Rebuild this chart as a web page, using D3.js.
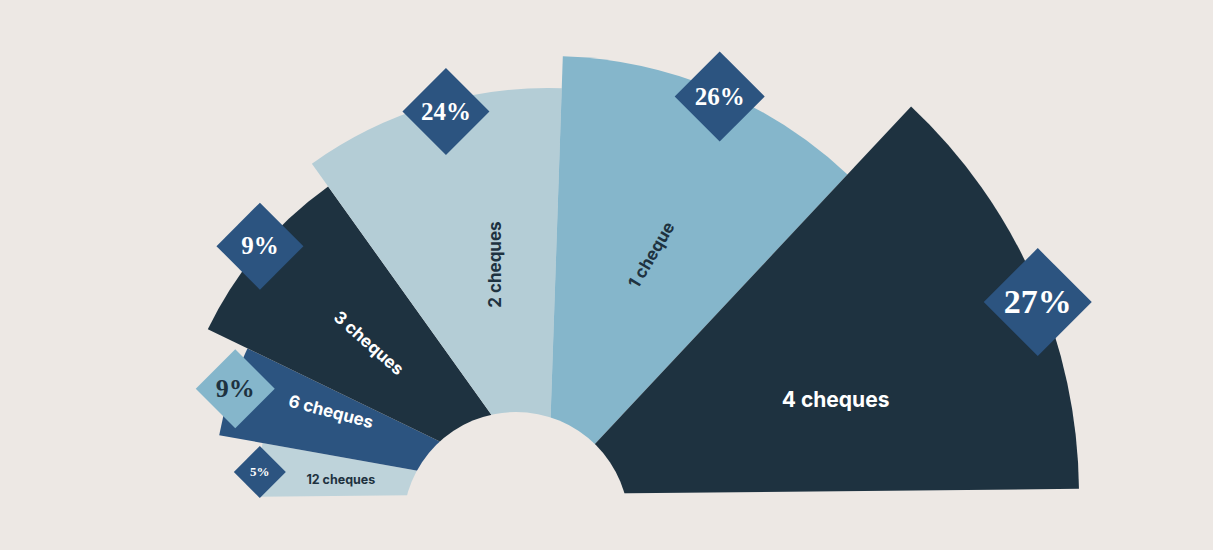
<!DOCTYPE html>
<html>
<head>
<meta charset="utf-8">
<script src="https://cdn.jsdelivr.net/npm/d3@7"></script>
<style>
  body { margin: 0; background: #ede8e4; }
  svg { display: block; }
</style>
</head>
<body>
<svg width="1213" height="550"></svg>
<script>
// Data
const categories = ["12 cheques", "6 cheques", "3 cheques", "2 cheques", "1 cheque", "4 cheques"];
const shares = [5, 9, 9, 24, 26, 27];

const svg = d3.select("svg"),
  width = +svg.attr("width"),
  height = +svg.attr("height");

const bg = "#ede8e4";
const cx = 548, cy = 494, tilt = -0.56;

// Layout scales (angles in degrees, 0 = up, clockwise)
const edge = d3.scaleLinear().domain(d3.range(7)).range([-90, -79.3, -63.6, -35, 2.5, 43.7, 90]);
const outer = d3.scaleOrdinal().domain(categories).range([290, 334, 378, 406, 438, 531]);
const fill = d3.scaleOrdinal().domain(categories)
  .range(["#bed3da", "#2c5480", "#1e3240", "#b4cdd6", "#85b6cb", "#1e3240"]);
const badgeSize = d3.scaleOrdinal().domain(categories).range([26, 39.5, 43.5, 43.5, 45, 54]);
const badgeFont = d3.scaleOrdinal().domain(categories).range([13, 26, 25, 25, 25, 34]);

// badge placement on the rim of each wedge
const badgeFrac = [0.46, 0.54, 0.52, 0.55, 0.52, 0.55];
const badgeInset = [1, 4, -2, 10, 5, 5];

// label placement inside each wedge
const labelFrac = [0.42, 0.68, 0.5, 0.6, 0.52, 0.62];
const labelRad = [0.716, 0.695, 0.62, 0.58, 0.595, 0.57];
const labelRot = [0, 14.8, 41.5, -90, -59.4, 0];
const labelSize = [12.5, 17, 17, 17, 17, 21];

const rad = Math.PI / 180;
function polar(a, r) {
  const x = r * Math.sin(a * rad), y = -r * Math.cos(a * rad);
  const t = tilt * rad;
  return [cx + x * Math.cos(t) - y * Math.sin(t), cy + x * Math.sin(t) + y * Math.cos(t)];
}

const rows = categories.map((c, i) => ({ cat: c, share: shares[i], i }));

svg.append("rect").attr("width", width).attr("height", height).attr("fill", bg);

// Wedges
const arc = d3.arc()
  .innerRadius(0)
  .outerRadius(d => outer(d.cat))
  .startAngle(d => edge(d.i) * rad)
  .endAngle(d => edge(d.i + 1) * rad);

svg.append("g")
  .attr("transform", `translate(${cx},${cy}) rotate(${tilt})`)
  .selectAll("path")
  .data(rows)
  .join("path")
  .attr("d", arc)
  .attr("fill", d => fill(d.cat));

// Hole
svg.append("circle")
  .attr("cx", 516).attr("cy", 525).attr("r", 113)
  .attr("fill", bg);

// Category labels
svg.append("g")
  .selectAll("text")
  .data(rows)
  .join("text")
  .attr("transform", d => {
    const a = edge(d.i + labelFrac[d.i]);
    const [x, y] = polar(a, outer(d.cat) * labelRad[d.i]);
    return `translate(${x},${y}) rotate(${labelRot[d.i]})`;
  })
  .attr("text-anchor", "middle")
  .attr("dominant-baseline", "central")
  .attr("font-family", "Inter, 'Noto Sans', sans-serif")
  .attr("font-weight", 700)
  .attr("font-size", d => labelSize[d.i])
  .attr("fill", d => (d.cat === "12 cheques" || d.cat === "2 cheques" || d.cat === "1 cheque") ? "#1e3240" : "#ffffff")
  .text(d => d.cat);

// Percentage badges
const badge = svg.append("g")
  .selectAll("g")
  .data(rows)
  .join("g")
  .attr("transform", d => {
    const [x, y] = polar(edge(d.i + badgeFrac[d.i]), outer(d.cat) - badgeInset[d.i]);
    return `translate(${x},${y})`;
  });

badge.append("rect")
  .attr("x", d => -badgeSize(d.cat) / Math.SQRT2)
  .attr("y", d => -badgeSize(d.cat) / Math.SQRT2)
  .attr("width", d => badgeSize(d.cat) * Math.SQRT2)
  .attr("height", d => badgeSize(d.cat) * Math.SQRT2)
  .attr("transform", "rotate(45)")
  .attr("fill", d => d.cat === "6 cheques" ? "#85b6cb" : "#2c5480");

badge.append("text")
  .attr("text-anchor", "middle")
  .attr("dy", d => badgeFont(d.cat) * 0.33)
  .attr("font-family", "'Liberation Serif', 'DejaVu Serif', serif")
  .attr("font-weight", "bold")
  .attr("font-size", d => badgeFont(d.cat))
  .attr("fill", d => d.cat === "6 cheques" ? "#1e3240" : "#ffffff")
  .text(d => d.share + "%");
</script>
</body>
</html>
